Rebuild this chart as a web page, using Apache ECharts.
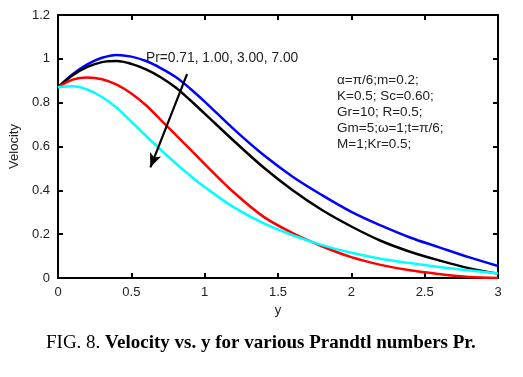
<!DOCTYPE html>
<html>
<head>
<meta charset="UTF-8">
<title>Velocity vs y</title>
<script src="https://cdn.jsdelivr.net/npm/echarts@6/dist/echarts.min.js"></script>
<style>
  body { margin: 0; background: #fff; }
  #chart { width: 523px; height: 377px; }
</style>
</head>
<body>
<div id="chart"></div>
<script>
// y positions
var yVals = [0, 0.1, 0.2, 0.3, 0.4, 0.5, 0.6, 0.7, 0.8, 0.9, 1.0, 1.2, 1.4, 1.6, 1.8, 2.0, 2.2, 2.4, 2.6, 2.8, 3.0];
// velocity for Pr = 0.71, 1.00, 3.00, 7.00
var velPr071 = [0.87, 0.93, 0.975, 1.005, 1.018, 1.01, 0.99, 0.958, 0.918, 0.865, 0.805, 0.678, 0.562, 0.462, 0.378, 0.302, 0.24, 0.185, 0.14, 0.095, 0.055];
var velPr100 = [0.87, 0.925, 0.963, 0.985, 0.99, 0.977, 0.952, 0.916, 0.87, 0.812, 0.75, 0.625, 0.505, 0.40, 0.31, 0.235, 0.17, 0.12, 0.08, 0.045, 0.02];
var velPr300 = [0.87, 0.905, 0.915, 0.907, 0.882, 0.842, 0.788, 0.722, 0.655, 0.588, 0.52, 0.39, 0.28, 0.205, 0.145, 0.095, 0.06, 0.035, 0.018, 0.005, 0.0];
var velPr700 = [0.87, 0.875, 0.86, 0.826, 0.777, 0.714, 0.648, 0.585, 0.525, 0.468, 0.415, 0.322, 0.25, 0.195, 0.15, 0.115, 0.088, 0.068, 0.05, 0.035, 0.02];
var arrowStart = [0.88, 0.93];
var arrowEnd = [0.63, 0.505];

function pairs(v) {
    return yVals.map(function (x, i) { return [x, v[i]]; });
}

function curve(name, color, vals) {
    return {
        name: name,
        type: 'line',
        data: pairs(vals),
        smooth: 0.35,
        showSymbol: false,
        lineStyle: { color: color, width: 2.5 },
        z: 3
    };
}

var series = [
    curve('Pr=0.71', '#0000ff', velPr071),
    curve('Pr=1.00', '#000000', velPr100),
    curve('Pr=3.00', '#ff0000', velPr300),
    curve('Pr=7.00', '#00ffff', velPr700),
    // empty series so the top / right box axes get drawn
    { type: 'line', xAxisIndex: 1, yAxisIndex: 1, data: [], silent: true }
];
series[1].markLine = {
    silent: true,
    symbol: ['none', 'arrow'],
    symbolSize: [9, 14],
    label: { show: false },
    lineStyle: { color: '#000', width: 2.2, type: 'solid' },
    data: [[{ coord: arrowStart }, { coord: arrowEnd }]]
};

var axisFont = { fontFamily: 'Liberation Sans', fontSize: 13, color: '#222' };
var tick = { show: true, inside: true, length: 5, lineStyle: { color: '#000', width: 2 } };
var chart = echarts.init(document.getElementById('chart'));
chart.setOption({
    animation: false,
    grid: { left: 58, top: 15, right: 25, bottom: 99, show: true, borderColor: '#000', borderWidth: 2 },
    xAxis: [{
        type: 'value', min: 0, max: 3, interval: 0.5,
        name: 'y', nameLocation: 'middle', nameGap: 24,
        nameTextStyle: axisFont,
        axisLine: { lineStyle: { color: '#000', width: 2 } },
        axisTick: tick,
        axisLabel: axisFont,
        splitLine: { show: false }
    }, {
        type: 'value', min: 0, max: 3, interval: 0.5, position: 'top', show: true,
        axisLine: { show: true, onZero: false, lineStyle: { color: '#000', width: 2 } },
        axisTick: tick,
        axisLabel: { show: false },
        splitLine: { show: false }
    }],
    yAxis: [{
        type: 'value', min: 0, max: 1.2, interval: 0.2,
        name: 'Velocity', nameLocation: 'middle', nameGap: 32,
        nameTextStyle: axisFont,
        axisLine: { show: true, lineStyle: { color: '#000', width: 2 } },
        axisTick: tick,
        axisLabel: Object.assign({ margin: 8 }, axisFont),
        splitLine: { show: false }
    }, {
        type: 'value', min: 0, max: 1.2, interval: 0.2, position: 'right', show: true,
        axisLine: { show: true, onZero: false, lineStyle: { color: '#000', width: 2 } },
        axisTick: tick,
        axisLabel: { show: false },
        splitLine: { show: false }
    }],
    series: series,
    graphic: [{
        type: 'text', left: 146, top: 51,
        style: { text: 'Pr=0.71, 1.00, 3.00, 7.00', fontFamily: 'Liberation Sans', fontSize: 13.8, fill: '#222' }
    }, {
        type: 'text', left: 337, top: 72,
        style: {
            text: 'α=π/6;m=0.2;\nK=0.5; Sc=0.60;\nGr=10; R=0.5;\nGm=5;ω=1;t=π/6;\nM=1;Kr=0.5;',
            fontFamily: 'Liberation Sans', fontSize: 13.5, lineHeight: 16, fill: '#222'
        }
    }, {
        type: 'text', left: 46, top: 334,
        style: {
            text: '{n|FIG. 8. }{b|Velocity vs. y for various Prandtl numbers Pr.}',
            rich: {
                n: { fontFamily: 'Liberation Serif', fontSize: 19, fill: '#000' },
                b: { fontFamily: 'Liberation Serif', fontSize: 19, fontWeight: 'bold', fill: '#000' }
            }
        }
    }]
});
</script>
</body>
</html>
